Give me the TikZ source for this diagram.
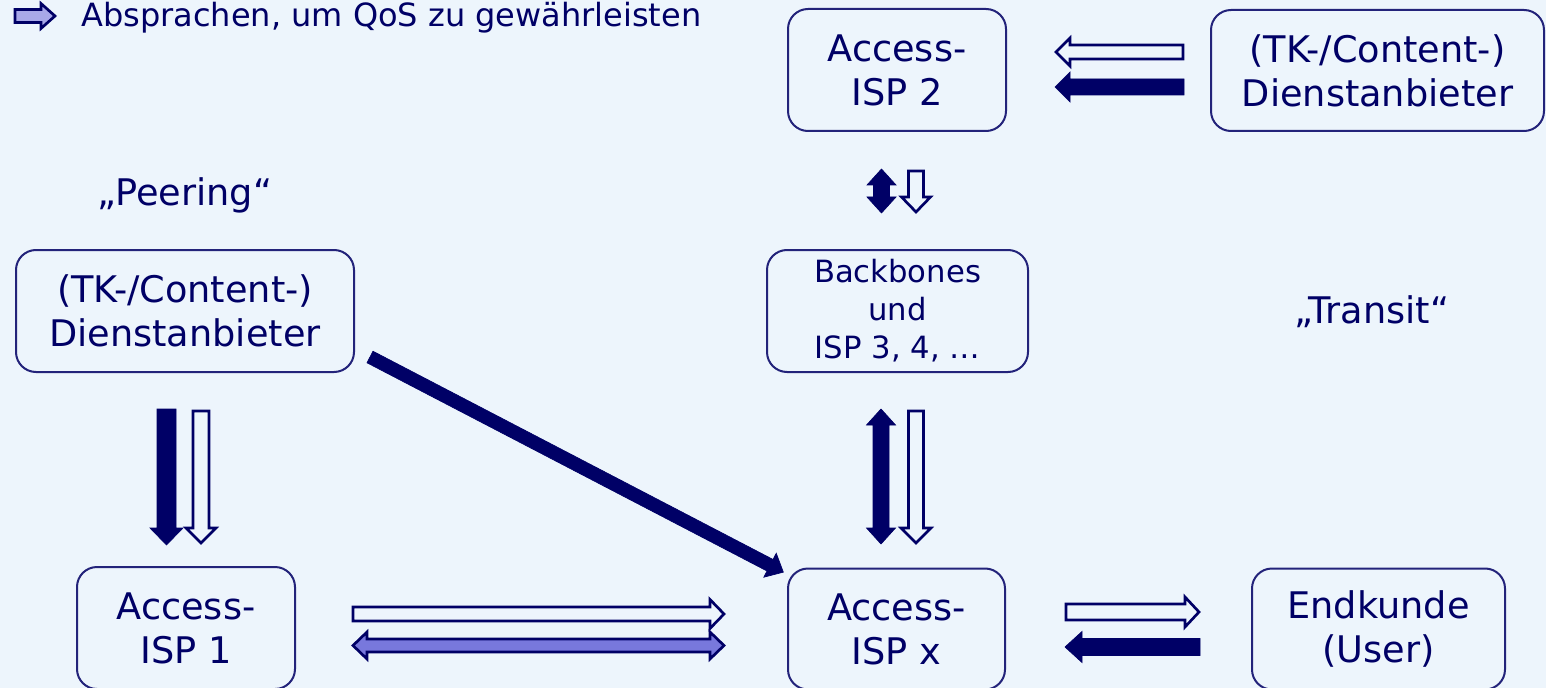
\documentclass[tikz,border=0pt]{standalone}
\usepackage{fontspec}
\setmainfont{DejaVu Sans}
\definecolor{navy}{HTML}{000066}
\definecolor{boxc}{HTML}{23237A}
\definecolor{bgc}{HTML}{EDF5FC}
\definecolor{peri}{HTML}{7878DC}
\definecolor{perilight}{HTML}{A8A8E8}
\tikzset{
  pics/sarrow/.style args={#1/#2/#3/#4}{code={
    \path[pic actions] (0,#2) -- ({#1-#4},#2) -- ({#1-#4},#3) -- (#1,0) -- ({#1-#4},-#3) -- ({#1-#4},-#2) -- (0,-#2) -- cycle;
  }},
  pics/darrow/.style args={#1/#2/#3/#4}{code={
    \path[pic actions] (0,0) -- (#4,#3) -- (#4,#2) -- ({#1-#4},#2) -- ({#1-#4},#3) -- (#1,0) -- ({#1-#4},-#3) -- ({#1-#4},-#2) -- (#4,-#2) -- (#4,-#3) -- cycle;
  }},
  box/.style={draw=boxc, line width=1.5pt, rounded corners=15pt, fill=bgc, inner sep=0pt, outer sep=0pt, align=center, text=navy, font=\fontsize{27.5pt}{33pt}\selectfont},
  lbl/.style={text=navy, inner sep=0pt, font=\fontsize{27.5pt}{33pt}\selectfont},
  solidarr/.style={fill=navy, draw=navy, line width=0.5pt, line join=miter},
  hollowarr/.style={fill=bgc, draw=navy, line width=2pt, line join=miter},
  periarr/.style={fill=peri, draw=navy, line width=2pt, line join=miter},
}
\begin{document}
\begin{tikzpicture}[x=0.75pt,y=-0.75pt]
\useasboundingbox (0,0) rectangle (1546,688);
\clip (0,0) rectangle (1546,688);
\fill[bgc] (0,0) rectangle (1546,688);

% legend
\pic[periarr, fill=perilight] at (15,16) {sarrow={40/6.5/12.5/14}};
\node[anchor=base west, text=navy, inner sep=0pt, font=\fontsize{24pt}{28pt}\selectfont] (leg) at (81,27) {Absprachen, um QoS zu gewährleisten};

% boxes
\node[box, minimum width=163.5pt, minimum height=91.5pt] (isp2) at (897,70) {Access-\\ISP 2};
\node[box, minimum width=249.75pt, minimum height=90.75pt] (tkr) at (1377.5,70.5) {(TK-/Content-)\\Dienstanbieter};
\node[box, minimum width=253.5pt, minimum height=91.5pt] (tkl) at (185,311) {(TK-/Content-)\\Dienstanbieter};
\node[box, minimum width=195.75pt, minimum height=91.5pt, font=\fontsize{23pt}{28.5pt}\selectfont] (bb) at (897.5,311) {Backbones\\und\\ISP 3, 4, \dots};
\node[box, minimum width=163.5pt, minimum height=91.5pt] (isp1) at (186,628) {Access-\\ISP 1};
\node[box, minimum width=162.75pt, minimum height=90.75pt] (ispx) at (896.5,629) {Access-\\ISP x};
\node[box, minimum width=189.75pt, minimum height=90.75pt] (end) at (1378.5,629) {Endkunde\\(User)};

% labels
\node[lbl, anchor=base] (peer) at (185,205) {„Peering“};
\node[lbl, anchor=base] (trans) at (1372,323) {„Transit“};

% block arrows
\pic[hollowarr, rotate=180] at (1183,52) {sarrow={127/7/14/14}};
\pic[solidarr, rotate=180] at (1184,87) {sarrow={129/8/15/15}};

\pic[solidarr, rotate=-90] at (881.5,169) {darrow={44/8/14.5/16}};
\pic[hollowarr, rotate=-90] at (916,171) {sarrow={41/7.5/14.5/15}};

\pic[solidarr, rotate=-90] at (881,409) {darrow={135/8/14.5/16}};
\pic[hollowarr, rotate=-90] at (916,411) {sarrow={132/7.5/15/15}};

\pic[solidarr, rotate=-90] at (166.5,409) {sarrow={136/9.5/16.5/17}};
\pic[hollowarr, rotate=-90] at (201,411) {sarrow={132/8/15/15}};

\pic[hollowarr] at (353,614) {sarrow={371/7/14.5/14}};
\pic[periarr] at (353,645.5) {darrow={371/6.5/13.5/14}};

\pic[hollowarr] at (1066,612) {sarrow={133/8/15/14}};
\pic[solidarr, rotate=180] at (1200,647) {sarrow={135/8.5/15.5/17}};

\pic[solidarr, rotate=-27.5] at (370,357) {sarrow={466/6.5/13.5/15}};
\end{tikzpicture}
\end{document}
